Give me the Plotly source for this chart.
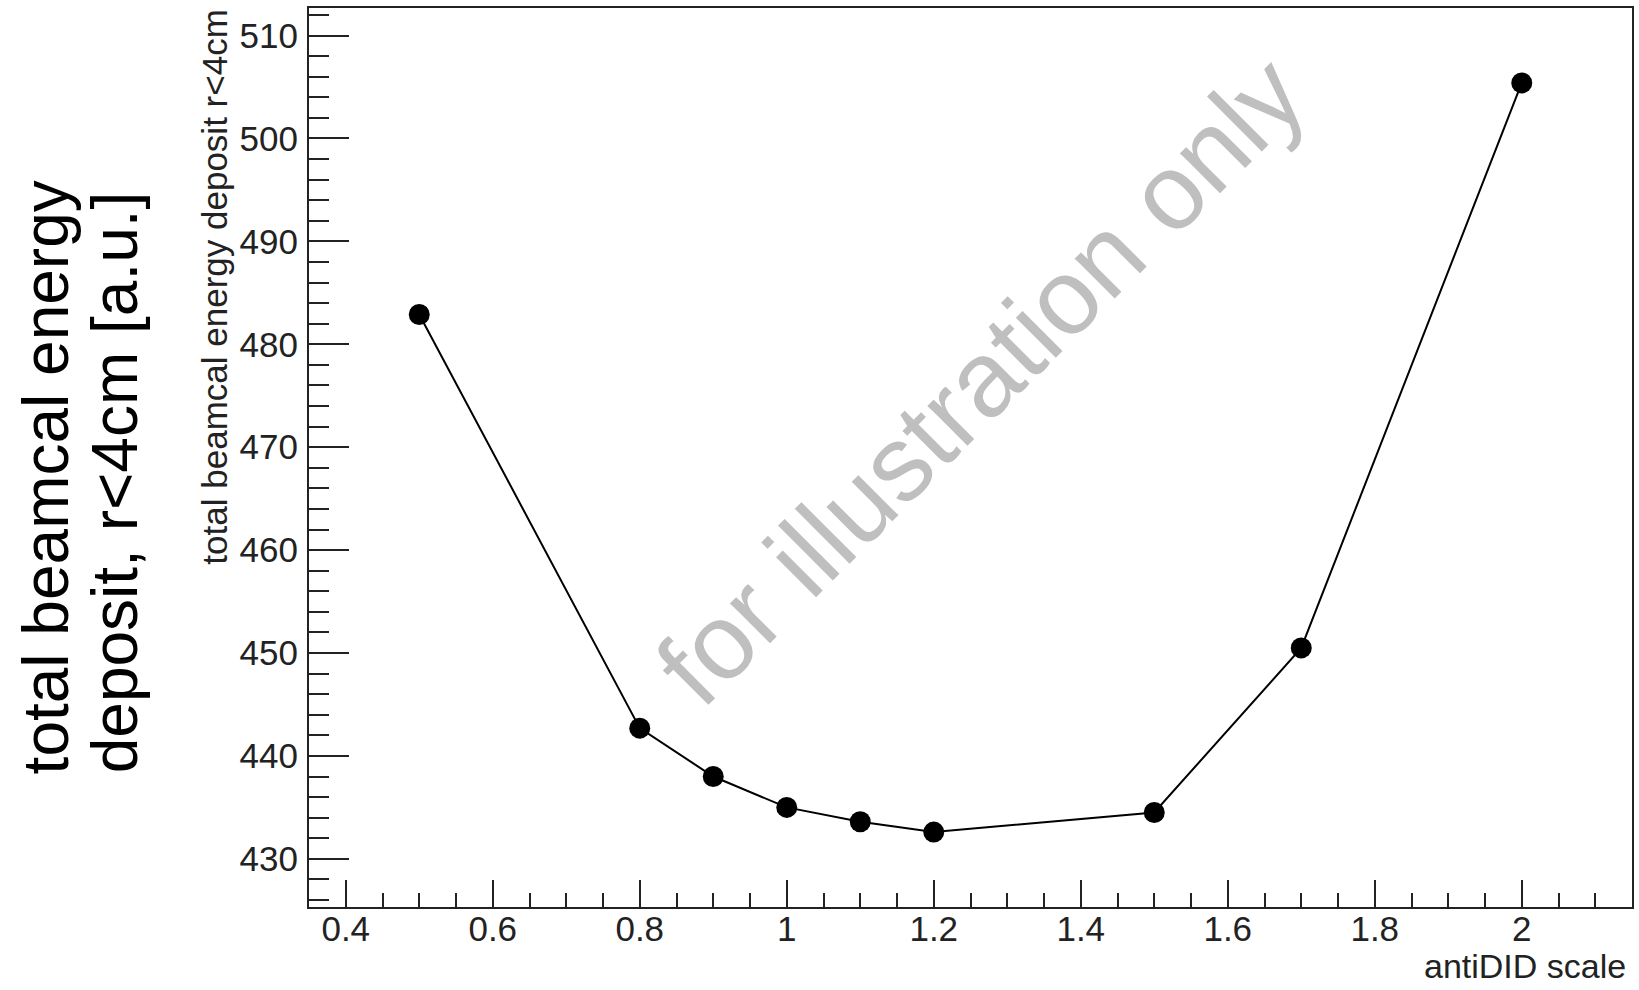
import plotly.graph_objects as go

# antiDID field scale factors and the summed BeamCal deposit (r < 4 cm)
antidid_scale = [0.5, 0.8, 0.9, 1.0, 1.1, 1.2, 1.5, 1.7, 2.0]
beamcal_deposit = [482.9, 442.7, 438.0, 435.0, 433.6, 432.6, 434.5, 450.5, 505.4]

x_tick_vals = [0.4, 0.6, 0.8, 1.0, 1.2, 1.4, 1.6, 1.8, 2.0]
x_tick_text = ["0.4", "0.6", "0.8", "1", "1.2", "1.4", "1.6", "1.8", "2"]
y_tick_vals = [430, 440, 450, 460, 470, 480, 490, 500, 510]

# ROOT-style axis range: 10% padding around the data
def padded(vals):
    lo, hi = min(vals), max(vals)
    d = hi - lo
    return [lo - 0.1 * d, hi + 0.1 * d]

FONT = "Liberation Sans, Arial, Helvetica, sans-serif"
W, H = 1639, 990
L, R, T, B = 309, 5, 8, 83
pw, ph = W - L - R, H - T - B

def px_x(X):
    return (X - L) / pw

def px_y(Y):
    return (H - B - Y) / ph

fig = go.Figure()
fig.add_trace(go.Scatter(
    x=antidid_scale, y=beamcal_deposit,
    mode="lines+markers",
    line=dict(color="black", width=2),
    marker=dict(color="black", size=21, symbol="circle"),
    showlegend=False,
    hoverinfo="x+y",
))

axis_common = dict(
    showline=True, linecolor="#222", linewidth=2, mirror=True,
    showgrid=False, zeroline=False,
    ticks="inside", tickcolor="#222", tickwidth=2,
    tickfont=dict(family=FONT, size=35, color="#222"),
)

fig.update_xaxes(
    range=padded(antidid_scale),
    tickvals=x_tick_vals, ticktext=x_tick_text,
    ticklen=27,
    minor=dict(ticks="inside", dtick=0.05, tick0=0.0, ticklen=14,
               tickcolor="#222", tickwidth=2, showgrid=False),
    ticklabelstandoff=-10,
    **axis_common,
)
fig.update_yaxes(
    range=padded(beamcal_deposit),
    tickvals=y_tick_vals,
    ticklen=40,
    minor=dict(ticks="inside", dtick=2, tick0=0, ticklen=20,
               tickcolor="#222", tickwidth=2, showgrid=False),
    ticklabelstandoff=2,
    **axis_common,
)

annotations = [
    # x-axis title, right-aligned at the end of the axis
    dict(text="antiDID scale", xref="paper", yref="paper",
         x=px_x(1630), y=px_y(966), xanchor="right", yanchor="middle",
         showarrow=False, font=dict(family=FONT, size=34, color="#222")),
    # small y-axis title, right-aligned at the top of the axis
    dict(text="total beamcal energy deposit r<4cm", xref="paper", yref="paper",
         x=px_x(214), y=1.0, xanchor="center", yanchor="top", textangle=-90,
         showarrow=False, font=dict(family=FONT, size=35, color="#222")),
    # large outer label, two lines
    dict(text="total beamcal energy", xref="paper", yref="paper",
         x=px_x(46), y=px_y(776), xanchor="center", yanchor="bottom", textangle=-90,
         showarrow=False, font=dict(family=FONT, size=64, color="black")),
    dict(text="deposit, r&lt;4cm [a.u.]", xref="paper", yref="paper",
         x=px_x(115), y=px_y(775), xanchor="center", yanchor="bottom", textangle=-90,
         showarrow=False, font=dict(family=FONT, size=64, color="black")),
    # watermark
    dict(text="for illustration only", xref="paper", yref="paper",
         x=px_x(982), y=px_y(380), xanchor="center", yanchor="middle", textangle=-45,
         showarrow=False, font=dict(family=FONT, size=107, color="#bfbfbf")),
]

fig.update_layout(
    width=W, height=H,
    margin=dict(l=L, r=R, t=T, b=B, pad=0),
    paper_bgcolor="white", plot_bgcolor="white",
    annotations=annotations,
    showlegend=False,
)

fig.write_html("out.html")
